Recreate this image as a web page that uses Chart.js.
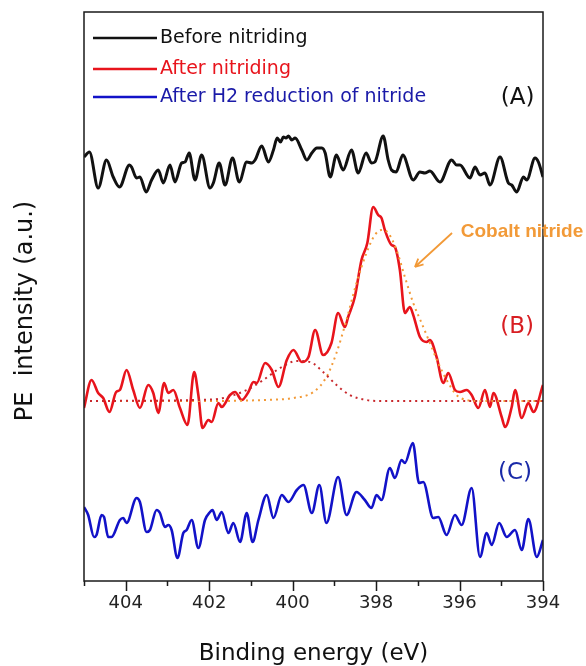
<!DOCTYPE html>
<html>
<head>
<meta charset="utf-8">
<script src="https://cdn.jsdelivr.net/npm/chart.js@4.4.1/dist/chart.umd.min.js"></script>
<style>
  html, body { margin: 0; padding: 0; background: #fff; }
  #wrap { width: 586px; height: 666px; }
</style>
</head>
<body>
<div id="wrap"><canvas id="xps" width="586" height="666"></canvas></div>
<script>
// N 1s XPS spectra, curves stacked with an offset (intensity in a.u.)
const majorTicks = [404, 402, 400, 398, 396, 394];
const minorTicks = [405, 403, 401, 399, 397, 395];

// (A) before nitriding
const beforeEnergy = [405.00, 404.87, 404.66, 404.46, 404.30, 404.15, 403.91, 403.86, 403.74, 403.66,
    403.51, 403.38, 403.22, 403.10, 402.94, 402.82, 402.66, 402.58, 402.48, 402.34,
    402.18, 401.98, 401.90, 401.76, 401.62, 401.44, 401.28, 401.10, 400.98, 400.90,
    400.74, 400.58, 400.46, 400.37, 400.29, 400.22, 400.16, 400.10, 400.02, 399.94,
    399.78, 399.66, 399.54, 399.42, 399.30, 399.22, 399.10, 398.95, 398.79, 398.59,
    398.43, 398.24, 398.11, 398.03, 397.83, 397.71, 397.63, 397.52, 397.36, 397.11,
    396.95, 396.83, 396.71, 396.47, 396.19, 396.07, 395.99, 395.75, 395.63, 395.51,
    395.39, 395.27, 395.03, 394.83, 394.75, 394.63, 394.47, 394.39, 394.19, 394.11, 394.00];
const beforeIntensity = [42.4, 42.9, 39.3, 42.1, 40.4, 39.4, 41.6, 41.4, 40.3, 40.4,
    38.9, 40.1, 41.1, 39.8, 41.6, 39.9, 41.8, 41.9, 42.8, 40.1,
    42.6, 39.3, 39.8, 41.8, 39.6, 42.3, 39.9, 41.9, 41.8, 42.1,
    43.5, 41.9, 43.1, 44.3, 43.9, 44.4, 44.3, 44.5, 44.1, 44.3,
    43.1, 42.1, 42.8, 43.3, 43.3, 42.8, 40.4, 42.6, 41.1, 43.1,
    40.8, 42.8, 41.8, 41.9, 44.5, 42.1, 41.1, 40.9, 42.6, 40.1,
    40.9, 40.8, 41.0, 39.9, 42.1, 41.6, 41.6, 40.3, 41.4, 40.6,
    40.8, 39.6, 42.4, 39.8, 39.6, 38.9, 40.4, 40.1, 42.3, 41.9, 40.4];

// (B) after nitriding
const afterEnergy = [405.00, 404.82, 404.66, 404.54, 404.39, 404.23, 404.14, 403.98, 403.82, 403.66,
    403.46, 403.34, 403.22, 403.08, 402.98, 402.86, 402.70, 402.52, 402.36, 402.26,
    402.16, 402.02, 401.94, 401.78, 401.70, 401.50, 401.38, 401.22, 401.06, 400.94,
    400.86, 400.66, 400.50, 400.34, 400.14, 399.98, 399.78, 399.62, 399.46, 399.27,
    399.07, 398.91, 398.75, 398.67, 398.51, 398.35, 398.21, 398.07, 397.95, 397.87,
    397.79, 397.63, 397.55, 397.43, 397.31, 397.19, 397.11, 396.95, 396.79, 396.71,
    396.55, 396.39, 396.27, 396.11, 395.99, 395.83, 395.71, 395.55, 395.39, 395.27,
    395.19, 394.99, 394.91, 394.75, 394.67, 394.51, 394.35, 394.23, 394.00];
const afterIntensity = [17.3, 20.1, 18.8, 18.3, 16.9, 18.9, 19.1, 21.1, 19.1, 17.3,
    19.6, 18.8, 16.8, 19.8, 18.8, 19.1, 17.3, 15.6, 20.9, 18.6,
    15.3, 16.1, 15.9, 17.8, 17.4, 18.6, 18.9, 18.1, 18.9, 19.9,
    19.8, 21.8, 21.1, 19.4, 22.1, 23.1, 21.9, 22.4, 25.1, 22.6,
    23.8, 26.8, 25.4, 26.4, 28.4, 32.1, 33.8, 37.4, 36.6, 36.3,
    35.1, 33.6, 33.4, 31.1, 26.8, 27.4, 26.6, 24.4, 23.9, 24.1,
    22.4, 19.8, 20.8, 19.1, 18.9, 19.1, 18.6, 17.3, 19.1, 17.4,
    18.8, 16.4, 15.4, 17.4, 19.1, 16.3, 17.8, 16.9, 19.6];

// fitted components of (B)
const nitrideFitEnergy = [405.00, 401.90, 400.70, 399.98, 399.50, 399.19, 398.95, 398.71, 398.47, 398.23,
    398.03, 397.87, 397.71, 397.51, 397.31, 397.11, 396.91, 396.71, 396.51, 396.31,
    396.07, 395.83, 395.51, 394.00];
const nitrideFitIntensity = [18.0, 18.0, 18.1, 18.3, 18.9, 20.4, 22.8, 26.1, 29.8, 32.8,
    34.6, 35.1, 34.8, 33.1, 30.4, 27.8, 25.8, 23.8, 21.8, 20.1,
    18.6, 18.1, 18.0, 18.0];
const secondFitEnergy = [405.00, 402.30, 401.66, 401.10, 400.70, 400.30, 399.90, 399.58, 399.27, 398.95,
    398.63, 398.23, 397.90, 394.00];
const secondFitIntensity = [18.0, 18.1, 18.3, 19.1, 20.1, 21.3, 22.0, 21.9, 20.9, 19.6,
    18.6, 18.1, 18.0, 18.0];

// (C) after H2 reduction of nitride
const reducedEnergy = [405.00, 404.90, 404.76, 404.70, 404.58, 404.52, 404.42, 404.34, 404.14, 404.06,
    403.98, 403.74, 403.66, 403.50, 403.42, 403.26, 403.18, 403.06, 402.98, 402.90,
    402.76, 402.62, 402.54, 402.42, 402.26, 402.10, 401.98, 401.92, 401.82, 401.70,
    401.54, 401.42, 401.26, 401.10, 400.96, 400.82, 400.62, 400.46, 400.26, 400.10,
    399.90, 399.74, 399.54, 399.36, 399.19, 398.91, 398.71, 398.47, 398.27, 398.11,
    397.99, 397.87, 397.67, 397.55, 397.39, 397.31, 397.12, 396.97, 396.87, 396.63,
    396.51, 396.31, 396.11, 395.95, 395.71, 395.51, 395.35, 395.23, 395.05, 394.87,
    394.67, 394.51, 394.35, 394.15, 394.00];
const reducedIntensity = [7.4, 6.6, 4.4, 4.6, 6.6, 6.4, 4.4, 4.4, 6.1, 6.3,
    5.8, 8.3, 7.9, 4.9, 5.1, 7.1, 6.8, 5.4, 5.6, 5.1,
    2.3, 4.8, 5.1, 6.1, 3.3, 6.1, 6.9, 7.1, 6.1, 6.9,
    4.8, 5.8, 3.9, 6.8, 3.9, 6.1, 8.6, 6.3, 8.6, 7.9,
    9.1, 9.6, 6.8, 9.6, 5.8, 10.4, 6.6, 8.9, 8.1, 7.3,
    8.6, 8.1, 11.3, 10.3, 12.1, 11.8, 13.8, 9.8, 9.9, 6.3,
    6.4, 4.6, 6.6, 5.6, 9.3, 2.4, 4.8, 3.6, 5.8, 4.4,
    5.1, 3.1, 6.2, 2.4, 4.1];

const legendLabels = ['Before nitriding', 'After nitriding', 'After H2 reduction of nitride'];
const curveLabels = ['(A)', '(B)', '(C)'];
const curveLabelAt = [[394.61, 48.3], [394.62, 25.4], [394.67, 10.8]];
const calloutText = 'Cobalt nitride';
const calloutAt = [395.97, 34.9];
const arrowFrom = [396.18, 34.8];
const arrowTo = [397.07, 31.4];

const BLACK = '#111111';
const RED = '#E8141C';
const BLUE = '#1212C8';
const ORANGE = '#F29A38';
const DARKRED = '#C8282C';

const pairs = (xs, ys) => xs.map((x, i) => ({ x, y: ys[i] }));

const FONT = "'DejaVu Sans', sans-serif";

const decor = {
    id: 'decor',
    afterDraw(chart) {
        const { ctx, chartArea: a } = chart;
        const xs = chart.scales.x, ys = chart.scales.y;
        ctx.save();

        // frame
        ctx.strokeStyle = '#1a1a1a';
        ctx.lineWidth = 1.5;
        ctx.strokeRect(a.left, a.top, a.right - a.left, a.bottom - a.top);

        // outward ticks on x
        ctx.beginPath();
        majorTicks.forEach(v => {
            const px = Math.round(xs.getPixelForValue(v)) + 0.5;
            ctx.moveTo(px, a.bottom);
            ctx.lineTo(px, a.bottom + 10);
        });
        minorTicks.forEach(v => {
            const px = Math.round(xs.getPixelForValue(v)) + 0.5;
            ctx.moveTo(px, a.bottom);
            ctx.lineTo(px, a.bottom + 5);
        });
        ctx.stroke();

        // legend inside plot
        const colors = [BLACK, RED, '#1A1AA8'];
        const lineCol = [BLACK, RED, BLUE];
        const rowY = [26, 57, 85];
        ctx.font = '19px ' + FONT;
        ctx.textBaseline = 'middle';
        ctx.textAlign = 'left';
        legendLabels.forEach((lab, i) => {
            const y = a.top + rowY[i];
            ctx.strokeStyle = lineCol[i];
            ctx.lineWidth = 2.5;
            ctx.beginPath();
            ctx.moveTo(a.left + 9, y);
            ctx.lineTo(a.left + 73, y);
            ctx.stroke();
            ctx.fillStyle = colors[i];
            ctx.fillText(lab, a.left + 76, y);
        });

        // (A) (B) (C)
        const labCol = [BLACK, '#D81E22', '#1A2AA8'];
        ctx.font = '23px ' + FONT;
        ctx.textAlign = 'center';
        curveLabels.forEach((lab, i) => {
            ctx.fillStyle = labCol[i];
            ctx.fillText(lab, xs.getPixelForValue(curveLabelAt[i][0]), ys.getPixelForValue(curveLabelAt[i][1]));
        });

        // callout with arrow
        ctx.fillStyle = ORANGE;
        ctx.font = "bold 19px 'Liberation Sans', sans-serif";
        ctx.textAlign = 'left';
        ctx.fillText(calloutText, xs.getPixelForValue(calloutAt[0]), ys.getPixelForValue(calloutAt[1]));
        const x0 = xs.getPixelForValue(arrowFrom[0]), y0 = ys.getPixelForValue(arrowFrom[1]);
        const x1 = xs.getPixelForValue(arrowTo[0]), y1 = ys.getPixelForValue(arrowTo[1]);
        const ang = Math.atan2(y1 - y0, x1 - x0);
        ctx.strokeStyle = ORANGE;
        ctx.lineWidth = 1.8;
        ctx.beginPath();
        ctx.moveTo(x0, y0);
        ctx.lineTo(x1, y1);
        ctx.moveTo(x1, y1);
        ctx.lineTo(x1 - 9 * Math.cos(ang - 0.45), y1 - 9 * Math.sin(ang - 0.45));
        ctx.moveTo(x1, y1);
        ctx.lineTo(x1 - 9 * Math.cos(ang + 0.45), y1 - 9 * Math.sin(ang + 0.45));
        ctx.stroke();

        // y title
        ctx.fillStyle = '#111';
        ctx.font = '24px ' + FONT;
        ctx.textAlign = 'center';
        ctx.translate(26, 311);
        ctx.rotate(-Math.PI / 2);
        ctx.fillText('PE  intensity (a.u.)', 0, 0);
        ctx.restore();
    }
};

const line = (data, color, width, extra) => Object.assign({
    data,
    borderColor: color,
    borderWidth: width,
    pointRadius: 0,
    cubicInterpolationMode: 'monotone',
    fill: false
}, extra || {});

new Chart(document.getElementById('xps'), {
    type: 'line',
    data: {
        datasets: [
            line(pairs(secondFitEnergy, secondFitIntensity), DARKRED, 2, { borderDash: [2, 4] }),
            line(pairs(nitrideFitEnergy, nitrideFitIntensity), ORANGE, 2, { borderDash: [2, 4] }),
            line(pairs(beforeEnergy, beforeIntensity), BLACK, 3),
            line(pairs(afterEnergy, afterIntensity), RED, 2.6),
            line(pairs(reducedEnergy, reducedIntensity), BLUE, 2.6)
        ]
    },
    options: {
        responsive: false,
        animation: false,
        layout: { padding: { left: 84, right: 43, top: 12, bottom: 0 } },
        plugins: { legend: { display: false }, tooltip: { enabled: false } },
        scales: {
            x: {
                type: 'linear',
                reverse: true,
                min: 394,
                max: 405,
                afterBuildTicks: s => { s.ticks = majorTicks.map(v => ({ value: v })); },
                afterFit: s => { s.height = 85; },
                grid: { display: false, drawTicks: false },
                border: { display: false },
                ticks: { color: '#222', padding: 12, font: { family: 'DejaVu Sans', size: 18 } },
                title: {
                    display: true,
                    text: 'Binding energy (eV)',
                    color: '#111',
                    font: { family: 'DejaVu Sans', size: 23 },
                    padding: { top: 20, bottom: -2 }
                }
            },
            y: { display: false, min: 0, max: 56.9 }
        }
    },
    plugins: [decor]
});
</script>
</body>
</html>
